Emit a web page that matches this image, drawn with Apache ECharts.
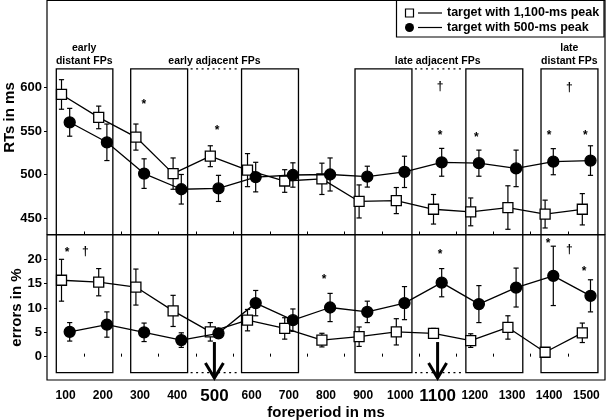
<!DOCTYPE html>
<html><head><meta charset="utf-8">
<script src="https://cdn.jsdelivr.net/npm/echarts@6/dist/echarts.min.js"></script>
<style>html,body{margin:0;padding:0;background:#fff}#c{width:607px;height:420px}</style>
</head><body><div id="c"></div><script>
// ---------- data ----------
const foreperiods = [100,200,300,400,500,600,700,800,900,1000,1100,1200,1300,1400,1500];
const peaks = [500, 1100];
const seriesNames = ['target with 1,100-ms peak', 'target with 500-ms peak'];
// RTs in ms
const rt1100 = [592,565.6,543,501,521,505,492.5,495,469,470,460,457,462,454.5,460];
const rt1100Err = [17,13,15,18,12,19,13,18,19,15,17,16,25,16,18];
const rt500 = [560,537,501,483,484,497,499.4,500,497.5,503,514,513,507,514.7,516];
const rt500Err = [16,21,17,17,15,17,14,19,12,18,16,15,21,15,17];
// errors in %
const er1100 = [15.7,15.3,14.3,9.4,5.1,7.5,5.8,3.4,4.1,5.1,4.8,3.3,6.0,0.9,4.9];
const er1100Err = [4.3,2.8,3.7,3.2,1.9,2.2,2.2,1.4,2.0,2.7,1.0,1.4,2.4,0.3,2.0];
const er500 = [5.1,6.6,5.0,3.4,4.8,11.0,7.5,10.1,9.2,11.0,15.2,10.8,14.2,16.6,12.5];
const er500Err = [1.9,2.6,1.9,1.5,1.0,2.6,2.3,2.9,2.2,3.4,2.9,3.8,4.0,6.1,3.3];
// FP groups (boxes, in ms) and their labels
const boxes = [[75,227],[275,428],[573,726],[878,1031],[1176,1329],[1378,1531]];
const groupLabelX = [150, 500, 1100, 1454];
const groupLabelText = ['early\ndistant FPs', 'early adjacent FPs', 'late adjacent FPs', 'late\ndistant FPs'];
// significance markers [fp, value]
const rtStars = [[310,584],[507,554],[1107,547.5],[1204,546],[1400,547.5],[1497,547.5]];
const rtDaggers = [[1107,601],[1454,600]];
const erStars = [[104,22],[795,16.4],[1107,21.6],[1397,23.8],[1494,18]];
const erDaggers = [[153,21.6],[1454,21.9]];
// axis ticks
const xTickLabels = foreperiods;
const xTickMarks = [150,250,350,450,550,650,750,850,950,1050,1150,1250,1350,1450];
const rtTicks = [450,500,550,600];
const erTicks = [0,5,10,15,20];

// ---------- chart ----------
const FONT = '"Liberation Sans", Arial, Helvetica, sans-serif';
const BOX_TOP_RT = 621.3, BOX_BOTTOM_ER = -3.3, ARROW_FROM = 3;
const DODGE = 11;
const connectors = [[boxes[1][1], boxes[2][0]], [boxes[3][1], boxes[4][0]]];

function boxSeries(g) {
  return {
    type: 'custom', xAxisIndex: g, yAxisIndex: g, z: 1, silent: true,
    data: boxes, encode: {x: [0, 1]},
    renderItem(params, api) {
      const cs = params.coordSys;
      const x0 = api.coord([api.value(0), g === 0 ? BOX_TOP_RT : BOX_BOTTOM_ER]);
      const x1 = api.coord([api.value(1), g === 0 ? BOX_TOP_RT : BOX_BOTTOM_ER]);
      const edge = g === 0 ? cs.y + cs.height : cs.y;
      return {type: 'polyline', shape: {points: [[x0[0], edge], [x0[0], x0[1]], [x1[0], x1[1]], [x1[0], edge]]},
        style: {stroke: '#000', fill: null, lineWidth: 1.3}};
    }
  };
}
function connectorSeries(g) {
  return {
    type: 'custom', xAxisIndex: g, yAxisIndex: g, z: 1, silent: true,
    data: connectors, encode: {x: [0, 1]},
    renderItem(params, api) {
      const yv = g === 0 ? BOX_TOP_RT : BOX_BOTTOM_ER;
      const a = api.coord([api.value(0), yv]);
      const b = api.coord([api.value(1), yv]);
      return {type: 'line', shape: {x1: a[0] + 3, y1: a[1], x2: b[0] - 2, y2: b[1]},
        style: {stroke: '#000', lineWidth: 1.3, lineDash: [2, 3.5]}};
    }
  };
}
function errSeries(g, vals, errs, dodge) {
  return {
    type: 'custom', xAxisIndex: g, yAxisIndex: g, z: 2, silent: true,
    data: foreperiods.map((fp, i) => [fp + dodge, vals[i] - errs[i], vals[i] + errs[i]]),
    encode: {x: 0, y: [1, 2]},
    renderItem(params, api) {
      const x = api.value(0);
      const lo = api.coord([x, api.value(1)]);
      const hi = api.coord([x, api.value(2)]);
      const c = 2.6, st = {stroke: '#000', lineWidth: 1.2};
      return {type: 'group', children: [
        {type: 'line', shape: {x1: lo[0], y1: lo[1], x2: hi[0], y2: hi[1]}, style: st},
        {type: 'line', shape: {x1: lo[0] - c, y1: lo[1], x2: lo[0] + c, y2: lo[1]}, style: st},
        {type: 'line', shape: {x1: hi[0] - c, y1: hi[1], x2: hi[0] + c, y2: hi[1]}, style: st}
      ]};
    }
  };
}
function lineSeries(g, vals, dodge, filled, name) {
  return {
    type: 'line', name, xAxisIndex: g, yAxisIndex: g, z: filled ? 4 : 3, silent: true,
    data: foreperiods.map((fp, i) => [fp + dodge, vals[i]]),
    symbol: filled ? 'circle' : 'rect', symbolSize: filled ? 11 : 10,
    itemStyle: {color: filled ? '#000' : '#fff', borderColor: '#000', borderWidth: 1.3},
    lineStyle: {color: '#000', width: 1.3},
    emphasis: {disabled: true}
  };
}
function markSeries(g, pts, ch, dy) {
  return {
    type: 'custom', xAxisIndex: g, yAxisIndex: g, z: 5, silent: true,
    data: pts, encode: {x: 0, y: 1},
    renderItem(params, api) {
      const p = api.coord([api.value(0), api.value(1)]);
      return {type: 'text', x: p[0], y: p[1] + dy,
        style: {text: ch, font: 'bold 12px ' + FONT, fill: '#000', textAlign: 'center', textVerticalAlign: 'middle'}};
    }
  };
}
const groupLabelSeries = {
  type: 'custom', xAxisIndex: 0, yAxisIndex: 0, z: 5, silent: true,
  data: groupLabelX.map(x => [x, BOX_TOP_RT]), encode: {x: 0, y: 1},
  renderItem(params, api) {
    const p = api.coord([api.value(0), api.value(1)]);
    return {type: 'text', x: p[0], y: p[1] - 1,
      style: {text: groupLabelText[params.dataIndex], font: 'bold 10.5px ' + FONT, fill: '#000',
        textAlign: 'center', textVerticalAlign: 'bottom', lineHeight: 13}};
  }
};
const arrowSeries = {
  type: 'custom', xAxisIndex: 1, yAxisIndex: 1, z: 6, silent: true,
  data: peaks.map(p => [p, ARROW_FROM]), encode: {x: 0, y: 1},
  renderItem(params, api) {
    const cs = params.coordSys;
    const p = api.coord([api.value(0), api.value(1)]);
    const yEnd = cs.y + cs.height - 2;
    const st = {stroke: '#000', lineWidth: 3, fill: null};
    return {type: 'group', children: [
      {type: 'line', shape: {x1: p[0], y1: p[1], x2: p[0], y2: yEnd}, style: st},
      {type: 'polyline', shape: {points: [[p[0] - 9, yEnd - 15], [p[0], yEnd], [p[0] + 9, yEnd - 15]]}, style: st}
    ]};
  }
};

const labelStyle = {color: '#000', fontFamily: FONT, fontWeight: 'bold'};
const nameStyle = {fontSize: 15, fontWeight: 'bold', fontFamily: FONT, color: '#000'};
const gridBase = {left: 47, width: 558, show: true, borderColor: '#000', borderWidth: 1.2,
  backgroundColor: 'transparent', containLabel: false, outerBoundsMode: 'none'};
const option = {
  animation: false,
  backgroundColor: '#fff',
  grid: [
    Object.assign({top: 0.5, height: 234}, gridBase),
    Object.assign({top: 235, height: 145}, gridBase)
  ],
  xAxis: [0, 1].map(g => ({
    type: 'value', gridIndex: g, min: 50, max: 1550,
    axisLine: {show: false}, splitLine: {show: false},
    axisTick: {show: true, inside: true, length: 3, customValues: xTickMarks, lineStyle: {color: '#000', width: 1}},
    axisLabel: g === 0 ? {show: false} : {
      show: true, customValues: xTickLabels, margin: 8,
      formatter: v => peaks.includes(v) ? '{big|' + v + '}' : '{n|' + v + '}',
      rich: {
        big: {fontSize: 17, fontWeight: 'bold', fontFamily: FONT, color: '#000', lineHeight: 16},
        n: {fontSize: 12, fontWeight: 'bold', fontFamily: FONT, color: '#000', lineHeight: 16}
      }
    },
    name: g === 1 ? 'foreperiod in ms' : '', nameLocation: 'middle', nameGap: 25, nameMoveOverlap: false,
    nameTextStyle: nameStyle
  })),
  yAxis: [
    {type: 'value', gridIndex: 0, min: 431, max: 700,
      axisLine: {show: false}, splitLine: {show: false},
      axisTick: {show: true, inside: false, length: 3, customValues: rtTicks, lineStyle: {color: '#000'}},
      axisLabel: Object.assign({customValues: rtTicks, fontSize: 13, margin: 5}, labelStyle),
      name: 'RTs in ms', nameLocation: 'middle', nameRotate: 90, nameGap: 30, nameMoveOverlap: false,
      nameTextStyle: nameStyle},
    {type: 'value', gridIndex: 1, min: -4.8, max: 25,
      axisLine: {show: false}, splitLine: {show: false},
      axisTick: {show: true, inside: false, length: 3, customValues: erTicks, lineStyle: {color: '#000'}},
      axisLabel: Object.assign({customValues: erTicks, fontSize: 13, margin: 5}, labelStyle),
      name: 'errors in %', nameLocation: 'middle', nameRotate: 90, nameGap: 23, nameMoveOverlap: false,
      nameTextStyle: nameStyle}
  ],
  graphic: [
    {type: 'rect', z: 100, shape: {x: 396.5, y: 0.5, width: 207.5, height: 36.5}, style: {fill: '#fff', stroke: '#000', lineWidth: 1.2}},
    {type: 'rect', z: 101, shape: {x: 405.5, y: 9, width: 8, height: 8}, style: {fill: '#fff', stroke: '#000', lineWidth: 1.2}},
    {type: 'line', z: 101, shape: {x1: 418, y1: 13, x2: 442, y2: 13}, style: {stroke: '#000', lineWidth: 1.2}},
    {type: 'text', z: 101, x: 447, y: 13, style: {text: seriesNames[0], font: 'bold 12.5px ' + FONT, fill: '#000', textVerticalAlign: 'middle'}},
    {type: 'circle', z: 101, shape: {cx: 409.5, cy: 27.5, r: 4.5}, style: {fill: '#000'}},
    {type: 'line', z: 101, shape: {x1: 418, y1: 27.5, x2: 442, y2: 27.5}, style: {stroke: '#000', lineWidth: 1.2}},
    {type: 'text', z: 101, x: 447, y: 27.5, style: {text: seriesNames[1], font: 'bold 12.5px ' + FONT, fill: '#000', textVerticalAlign: 'middle'}}
  ],
  series: [
    boxSeries(0), connectorSeries(0), boxSeries(1), connectorSeries(1),
    errSeries(0, rt1100, rt1100Err, -DODGE), errSeries(0, rt500, rt500Err, DODGE),
    errSeries(1, er1100, er1100Err, -DODGE), errSeries(1, er500, er500Err, DODGE),
    lineSeries(0, rt1100, -DODGE, false, seriesNames[0]), lineSeries(0, rt500, DODGE, true, seriesNames[1]),
    lineSeries(1, er1100, -DODGE, false, seriesNames[0]), lineSeries(1, er500, DODGE, true, seriesNames[1]),
    markSeries(0, rtStars, '*', 3), markSeries(0, rtDaggers, '†', 0),
    markSeries(1, erStars, '*', 3), markSeries(1, erDaggers, '†', 0),
    groupLabelSeries, arrowSeries
  ]
};
echarts.init(document.getElementById('c'), null, {renderer: 'canvas'}).setOption(option);
</script></body></html>
